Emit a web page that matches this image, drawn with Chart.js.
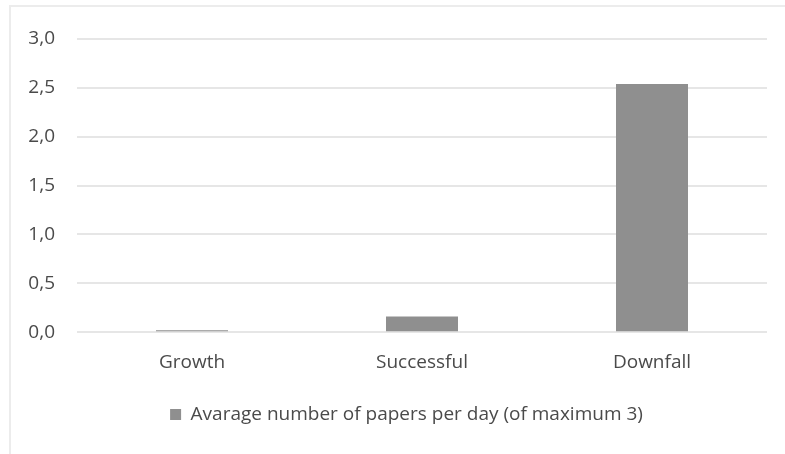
<!DOCTYPE html>
<html>
<head>
<meta charset="utf-8">
<script src="https://cdn.jsdelivr.net/npm/chart.js@4"></script>
<style>
  html, body { margin: 0; padding: 0; background: #fff; }
  #wrap { position: relative; width: 785px; height: 454px; }
  #frame { position: absolute; left: 9px; top: 5px; right: 0; bottom: 0;
           border-left: 2px solid #ececec; border-top: 2px solid #ececec; }
  canvas { position: absolute; left: 0; top: 0; }
</style>
</head>
<body>
<div id="wrap">
  <div id="frame"></div>
  <canvas id="chart" width="785" height="454"></canvas>
</div>
<script>
const categories = ["Growth", "Successful", "Downfall"];
const papersPerDay = [0.02, 0.16, 2.54];
const seriesLabel = "Avarage number of papers per day (of maximum 3)";
const yTicks = [0, 0.5, 1, 1.5, 2, 2.5, 3];

const font = "'Open Sans', sans-serif";
const textColor = "#4a4a4a";

// legend in the original sits a little right of centre
const shiftLegend = {
  id: "shiftLegend",
  afterLayout(chart) {
    chart.legend.left += 23;
    chart.legend.right += 23;
  }
};

new Chart(document.getElementById("chart"), {
  type: "bar",
  data: {
    labels: categories,
    datasets: [{
      label: seriesLabel,
      data: papersPerDay,
      backgroundColor: "#8f8f8f",
      categoryPercentage: 1,
      barPercentage: 0.313
    }]
  },
  options: {
    responsive: false,
    animation: false,
    layout: { padding: { left: 0, right: 18, top: 39, bottom: 20 } },
    plugins: {
      tooltip: { enabled: false },
      legend: {
        position: "bottom",
        labels: {
          boxWidth: 11,
          boxHeight: 11,
          padding: 20,
          color: textColor,
          font: { family: font, size: 19 }
        }
      }
    },
    scales: {
      x: {
        grid: { display: false },
        border: { display: false },
        ticks: { color: textColor, padding: 11, font: { family: font, size: 19 } }
      },
      y: {
        min: 0,
        max: 3,
        afterFit: s => { s.width = 77; },
        afterBuildTicks: s => { s.ticks = yTicks.map(v => ({ value: v })); },
        grid: { color: "#e6e6e6", lineWidth: 2, drawTicks: false },
        border: { display: false },
        ticks: {
          color: textColor,
          padding: 22,
          font: { family: font, size: 19 },
          callback: v => v.toFixed(1).replace(".", ",")
        }
      }
    }
  },
  plugins: [shiftLegend]
});
</script>
</body>
</html>
